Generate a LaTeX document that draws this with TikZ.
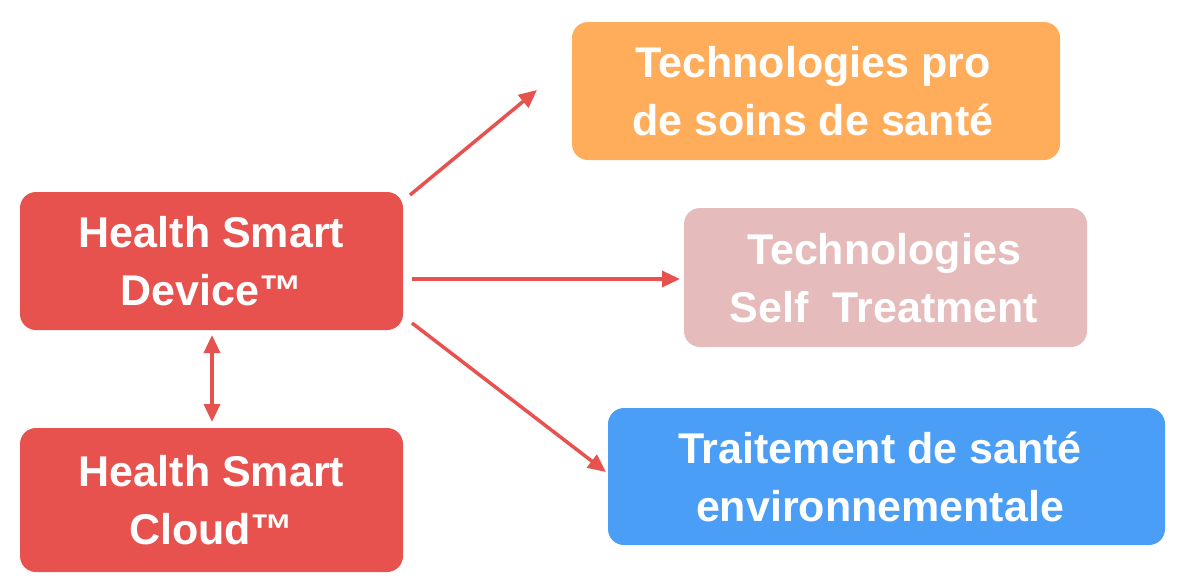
\documentclass[tikz,border=0pt]{standalone}
\usepackage{fontspec}
\setmainfont{Liberation Sans}
\usetikzlibrary{arrows.meta}
\definecolor{cred}{HTML}{E8524E}
\definecolor{corange}{HTML}{FFAD5B}
\definecolor{cpink}{HTML}{E5BBBB}
\definecolor{cblue}{HTML}{4A9EF5}
\definecolor{carrow}{HTML}{E8524E}
\tikzset{
  box/.style={rounded corners=16pt, text=white, font=\bfseries\fontsize{43}{58}\selectfont, align=center, inner sep=0pt},
  conn/.style={draw=carrow, line width=3.5pt, -{Triangle[length=18pt,width=16pt]}},
}
\begin{document}
\begin{tikzpicture}[x=1pt,y=-1pt]
\useasboundingbox (0,0) rectangle (1186,582);
\fill[cred,rounded corners=16pt] (20,192) rectangle (403,330);
\node[box] (hsd) at (211.5,261) {Health Smart\\Device™};
\fill[cred,rounded corners=16pt] (20,428) rectangle (403,572);
\node[box] (hsc) at (211.5,500) {Health Smart\\Cloud™};
\fill[corange,rounded corners=16pt] (572,22) rectangle (1060,160);
\node[box] (tp) at (813,91) {Technologies pro\\de soins de santé};
\fill[cpink,rounded corners=16pt] (684,208) rectangle (1087,347);
\node[box] (ts) at (884,278) {Technologies\\Self~ Treatment};
\fill[cblue,rounded corners=16pt] (608,408) rectangle (1165,545);
\node[box] (tr) at (880,477) {Traitement de santé\\environnementale};
\coordinate (a1s) at (410,195); \coordinate (a1e) at (537,90);
\coordinate (a2s) at (412,279); \coordinate (a2e) at (680,279);
\coordinate (a3s) at (412,323); \coordinate (a3e) at (606,472);
\coordinate (a4s) at (212,335); \coordinate (a4e) at (212,422);
\draw[conn] (a1s) -- (a1e);
\draw[conn] (a2s) -- (a2e);
\draw[conn] (a3s) -- (a3e);
\draw[conn,{Triangle[length=18pt,width=16pt]}-{Triangle[length=18pt,width=16pt]}] (a4s) -- (a4e);
\end{tikzpicture}
\end{document}
